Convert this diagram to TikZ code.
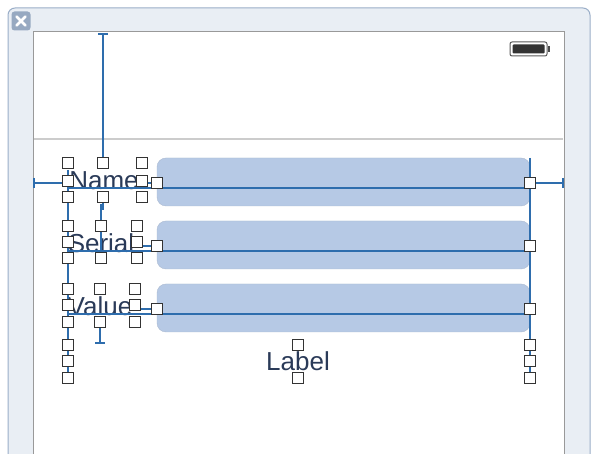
\documentclass[tikz,border=0pt]{standalone}
\usepackage{fontspec}
\setmainfont{Liberation Sans}
\definecolor{consblue}{HTML}{2E6DAD}
\definecolor{fieldblue}{HTML}{B6C9E5}
\definecolor{labtext}{HTML}{2A3A58}
\definecolor{winfill}{HTML}{E9EEF4}
\definecolor{winborder}{HTML}{9AAEC8}
\begin{document}
\begin{tikzpicture}[x=1pt,y=-1pt,
  hnd/.style={draw=black!80,fill=white,line width=1pt,minimum size=10.5pt,inner sep=0pt,shape=rectangle},
  cons/.style={draw=consblue,line width=1.4pt},
  fld/.style={fill=fieldblue,draw=fieldblue!80!gray,rounded corners=9pt},
  lbl/.style={font=\fontsize{26}{26}\selectfont,text=labtext,inner sep=0pt}]
\useasboundingbox (0,0) rectangle (600,454);
% window
\draw[fill=winfill,draw=winborder,rounded corners=7pt,line width=1pt] (8,8) rectangle (590,470);
\node[fill=winborder!90!gray,rounded corners=3pt,minimum size=19pt,inner sep=0pt] (close) at (21,21) {};
\draw[white,line width=2.6pt,line cap=round] (16.5,16.5) -- (25.5,25.5) (25.5,16.5) -- (16.5,25.5);
\draw[fill=white,draw=gray!80,line width=1pt] (33,32) rectangle (564,470);
\draw[gray!40,line width=1.5pt] (34,139) -- (563,139);
% battery
\draw[draw=gray!70!black,fill=white,rounded corners=2pt,line width=1pt] (510,42) rectangle (547,56);
\fill[gray!40!black,rounded corners=1pt] (512.5,44.5) rectangle (544.5,53.5);
\fill[gray!60!black] (548,46) rectangle (550,52);
% fields
\node[fld,minimum width=373pt,minimum height=48pt] (f1) at (343.5,182) {};
\node[fld,minimum width=373pt,minimum height=48pt] (f2) at (343.5,245) {};
\node[fld,minimum width=373pt,minimum height=48pt] (f3) at (343.5,308) {};
% labels
\node[lbl] (name) at (104,181) {Name};
\node[lbl] (serial) at (101,243) {Serial};
\node[lbl] (value) at (100,306) {Value};
\node[lbl] (label) at (298,361) {Label};
% constraint lines
\coordinate (t1) at (103,34); \coordinate (t2) at (103,163);
\draw[cons] (t1) -- (t2); \draw[cons] (98,34) -- (108,34);
\draw[cons] (34,183) -- (68,183); \draw[cons] (34,178) -- (34,188);
\draw[cons] (530,183) -- (563,183); \draw[cons] (563,178) -- (563,188);
\draw[cons] (68,188) -- (530,188);
\draw[cons] (68,251) -- (530,251);
\draw[cons] (68,314) -- (530,314);
\draw[cons] (142,183) -- (157,183);
\draw[cons] (137,246) -- (157,246);
\draw[cons] (135,309) -- (157,309);
\draw[cons] (530,158) -- (530,380);
\draw[cons] (68,170) -- (68,380);
\draw[cons] (101,230) -- (101,258);
\draw[cons] (100,322) -- (100,343); \draw[cons] (95,343) -- (105,343);
\draw[cons] (103,197) -- (103,210); \draw[cons] (101,204) -- (101,230);
% handles
\foreach \x/\y in {68/163,103/163,142/163,68/181,142/181,68/197,103/197,142/197,
  68/226,101/226,137/226,68/242,137/242,68/258,101/258,137/258,
  68/289,100/289,135/289,68/305,135/305,68/322,100/322,135/322,
  157/183,157/246,157/309,530/183,530/246,530/309,
  68/345,68/361,68/378,530/345,530/361,530/378,298/345,298/378}
  \node[hnd] at (\x,\y) {};
\end{tikzpicture}
\end{document}
